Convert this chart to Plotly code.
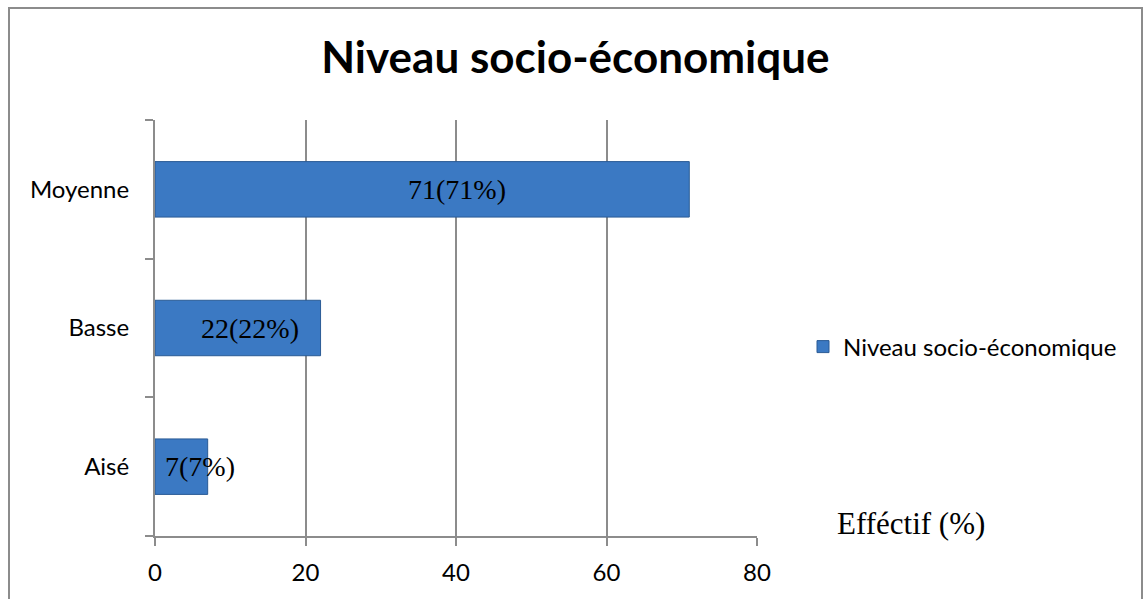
import plotly.graph_objects as go

categories = ["Aisé", "Basse", "Moyenne"]
values = [7, 22, 71]
labels = ["7(7%)", "22(22%)", "71(71%)"]
label_x = [6.0, 12.6, 40.1]  # label centre positions (data units)
x_ticks = [0, 20, 40, 60, 80]
series_name = "Niveau socio-économique"

W, H = 1144, 599
L, R, T, B = 155, 387, 120, 63
pw, ph = W - L - R, H - T - B

def px2paper_x(px):
    return (px - L) / pw

def px2paper_y(py):
    return (H - B - py) / ph

fig = go.Figure()
fig.add_trace(go.Bar(
    y=categories, x=values, orientation="h", name=series_name,
    marker=dict(color="#3b79c3", line=dict(color="#2a5b95", width=1)),
    width=0.4, showlegend=True,
))

for cat, lx, lab in zip(categories, label_x, labels):
    fig.add_annotation(x=lx, y=cat, xref="x", yref="y", text=lab, showarrow=False,
                       font=dict(family="Liberation Serif", size=28, color="black"),
                       xanchor="center", yanchor="middle")

fig.add_annotation(x=px2paper_x(835), y=px2paper_y(523), xref="paper", yref="paper",
                   text="Efféctif (%)", showarrow=False, xanchor="left", yanchor="middle",
                   font=dict(family="Liberation Serif", size=31, color="black"))

# outer chart border
fig.add_shape(type="rect", xref="paper", yref="paper",
              x0=px2paper_x(9), x1=px2paper_x(1142), y0=px2paper_y(640), y1=px2paper_y(8),
              line=dict(color="#8c8c8c", width=2), fillcolor="rgba(0,0,0,0)", layer="below")

fig.update_layout(
    width=W, height=H,
    margin=dict(l=L, r=R, t=T, b=B, autoexpand=False),
    paper_bgcolor="white", plot_bgcolor="white",
    title=dict(text="<b>Niveau socio-économique</b>", x=0.503, xanchor="center",
               y=1 - 58 / H, yanchor="middle",
               font=dict(family="Lato", size=44, color="black")),
    legend=dict(x=px2paper_x(803), y=px2paper_y(347), xanchor="left", yanchor="middle",
                font=dict(family="Lato", size=24, color="black"),
                bgcolor="rgba(0,0,0,0)", itemwidth=30),
    font=dict(family="Lato", size=24, color="black"),
    bargap=0.6,
)
fig.update_xaxes(range=[0, 80], tickvals=x_ticks, showgrid=True, gridcolor="#8c8c8c",
                 gridwidth=1.5, showline=True, linecolor="#8c8c8c", linewidth=2,
                 ticks="outside", ticklen=8, tickcolor="#8c8c8c", tickwidth=2,
                 ticklabelstandoff=6,
                 zeroline=False, tickfont=dict(size=24, color="black"))
fig.update_yaxes(categoryorder="array", categoryarray=categories, showline=True,
                 linecolor="#8c8c8c", linewidth=2, ticks="outside", ticklen=8,
                 tickcolor="#8c8c8c", tickwidth=2, tickson="boundaries", showgrid=False,
                 ticklabelstandoff=19,
                 tickfont=dict(size=24, color="black"))

fig.write_html("out.html")
